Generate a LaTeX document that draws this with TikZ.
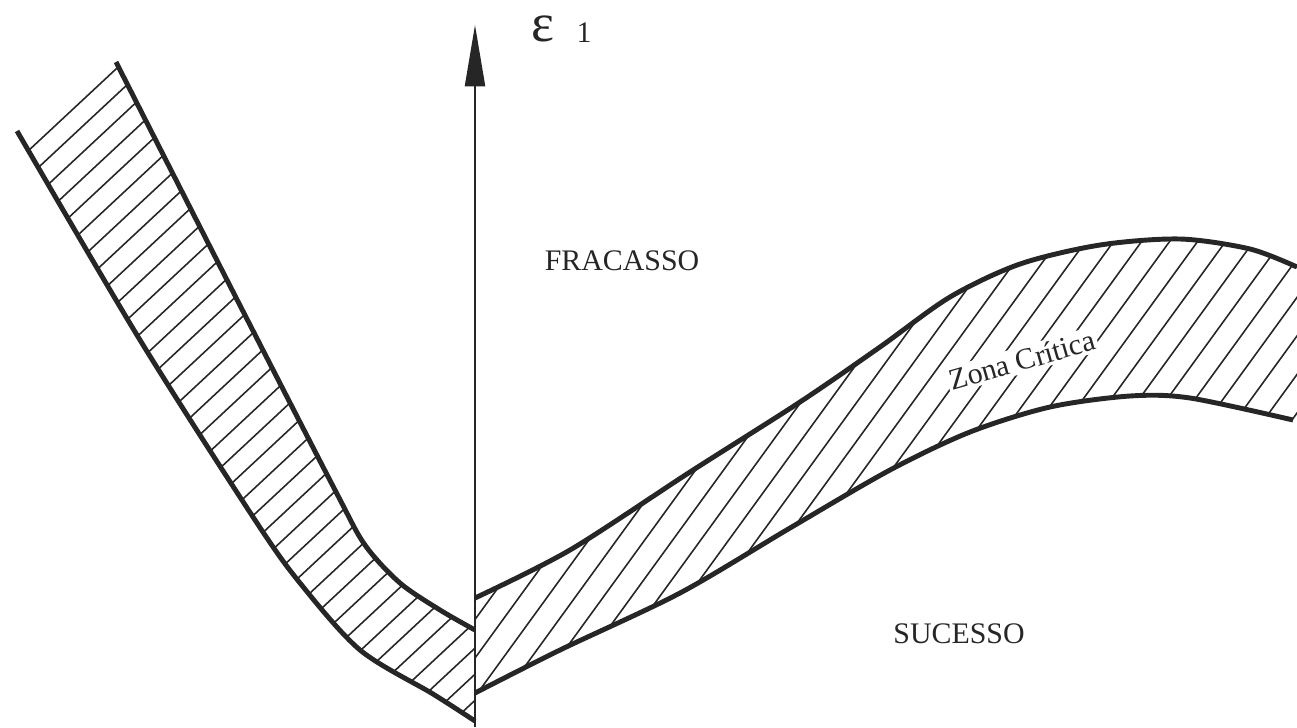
\documentclass[tikz,border=0pt]{standalone}
\usepackage{fontspec}
\setmainfont{Liberation Serif}
\usetikzlibrary{arrows.meta}

\begin{document}
\begin{tikzpicture}[
        x=0.02cm, y=-0.02cm,
        band/.style={line width=2.8pt, black!85},
        hatch/.style={line width=0.9pt, black!85},
        axis/.style={-{Triangle[length=35pt, width=11.5pt]}, line width=1pt, black!85},
        label/.style={font=\fontsize{17}{20}\selectfont, text=black!85}
    ]

% Frame of the picture
        \useasboundingbox (0,0) rectangle (1297,727);

% Hatching of the left band
        \begin{scope}
            \clip plot[smooth] coordinates {(17,131) (140,340) (255,520) (300,583) (360,650) (433,694) (475,721)}
                -- plot[smooth] coordinates {(475,630) (440,610) (400,583) (365,545) (335,490) (227,280) (116,62)} -- cycle;
            \foreach \c in {190,218,...,1260}
                \draw[hatch] (\c,0) -- (\c-800,746);
        \end{scope}

% Hatching of the right band (critical zone)
        \begin{scope}
            \clip plot[smooth] coordinates {(475,598) (570,550) (690,472) (800,402) (880,347) (950,297) (1020,264) (1100,245) (1180,239) (1250,249) (1297,267)}
                -- (1297,422)
                -- plot[smooth] coordinates {(1293,420) (1190,398) (1130,396) (1050,407) (970,432) (890,470) (790,528) (680,593) (560,650) (475,693)} -- cycle;
            \foreach \c in {925,953,...,1650}
                \draw[hatch] (\c,0) -- (\c-600,826);
        \end{scope}

% Label inside the zone, on a gap in the hatching
        \node[label, fill=white, inner sep=1.5pt, rotate=16] (zona) at (1022,360) {Zona Crítica};

% Boundaries of the left band
        \draw[band] plot[smooth] coordinates {(17,131) (140,340) (255,520) (300,583) (360,650) (433,694) (475,721)};
        \draw[band] plot[smooth] coordinates {(116,62) (227,280) (335,490) (365,545) (400,583) (440,610) (475,630)};

% Boundaries of the right band
        \draw[band] plot[smooth] coordinates {(475,598) (570,550) (690,472) (800,402) (880,347) (950,297) (1020,264) (1100,245) (1180,239) (1250,249) (1297,267)};
        \draw[band] plot[smooth] coordinates {(475,693) (560,650) (680,593) (790,528) (890,470) (970,432) (1050,407) (1130,396) (1190,398) (1293,420)};

% Vertical axis
        \coordinate (base) at (475,727);
        \coordinate (tip) at (475,25);
        \draw[axis] (base) -- (tip);
        \node[font=\fontsize{31}{34}\selectfont, text=black!85] (eps) at (543,29) {ε};
        \node[label] (idx) at (584,33) {1};

% Regions
        \node[label] (fail) at (622,261) {FRACASSO};
        \node[label] (ok) at (959,634) {SUCESSO};
\end{tikzpicture}
\end{document}
